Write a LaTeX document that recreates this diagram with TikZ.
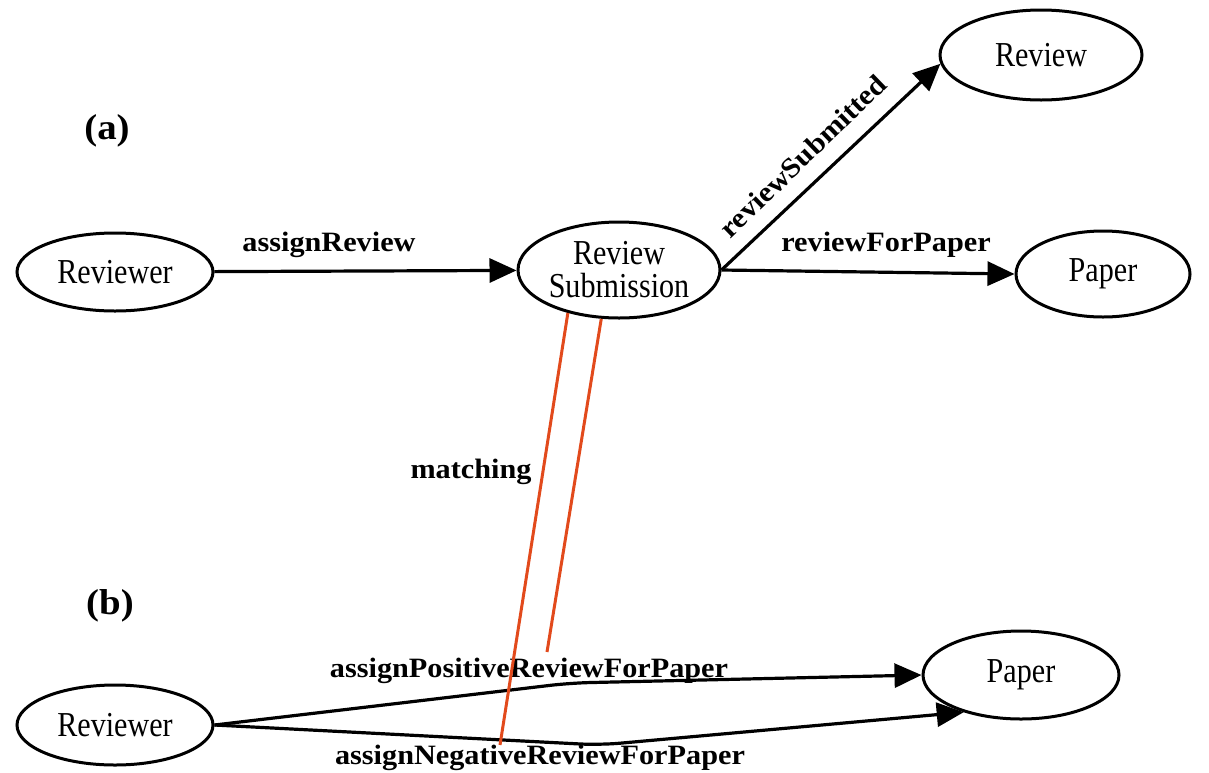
\documentclass[tikz,border=0pt]{standalone}
\usepackage{fontspec}
\setmainfont{Liberation Serif}
\newfontfamily\nodefont[FakeStretch=0.86]{Liberation Serif}
\newfontfamily\edgefont[FakeStretch=1.08]{Liberation Serif}
\usetikzlibrary{shapes.geometric,arrows.meta}
\definecolor{matchred}{RGB}{226,74,28}
\begin{document}
\begin{tikzpicture}[x=1pt,y=-1pt,
  entity/.style={ellipse,draw,line width=3pt,inner sep=0pt,align=center,
    font=\fontsize{35}{33}\selectfont\nodefont},
  rel/.style={line width=3.2pt,-{Triangle[length=27pt,width=24pt]}},
  lbl/.style={inner sep=0pt,font=\fontsize{28}{30}\selectfont\edgefont\bfseries},
  panel/.style={inner sep=0pt,font=\fontsize{36}{38}\selectfont\edgefont\bfseries},
  match/.style={draw=matchred,line width=3pt}]
\useasboundingbox (0,0) rectangle (1209,772);

% panel (a)
\node[panel] (pa) at (107,131) {(a)};
\node[entity,minimum width=196pt,minimum height=78pt] (r1) at (115,272) {Reviewer};
\node[entity,minimum width=202pt,minimum height=96pt] (rs) at (619,270) {Review\\Submission};
\node[entity,minimum width=202pt,minimum height=90pt] (rv) at (1041,55) {Review};
\node[entity,minimum width=174pt,minimum height=86pt] (p1) at (1103,274) {Paper};

\draw[rel] (r1) -- (rs);
\node[lbl] (l1) at (329,245) {assignReview};
\draw[rel] (rs.east) -- (rv.185);
\node[lbl,rotate=44] (l2) at (803,156) {reviewSubmitted};
\draw[rel] (rs.east) -- (p1.west);
\node[lbl] (l3) at (886,245) {reviewForPaper};

% panel (b)
\node[panel] (pb) at (110,606) {(b)};
\node[entity,minimum width=196pt,minimum height=80pt] (r2) at (115,725) {Reviewer};
\node[entity,minimum width=196pt,minimum height=88pt] (p2) at (1021,675) {Paper};

\coordinate (bu) at (570,683);
\coordinate (bl) at (600,745);
\draw[rel,rounded corners=20pt] (r2.east) -- (bu) -- (p2.west);
\draw[rel,rounded corners=20pt] (r2.east) -- (bl) -- (p2.213);
\node[lbl] (l4) at (529,671) {assignPositiveReviewForPaper};
\node[lbl] (l5) at (540,758) {assignNegativeReviewForPaper};

% matching between the two panels
\coordinate (m1) at (500,745);
\coordinate (m2) at (547,652);
\draw[match] (rs.220) -- (m1);
\draw[match] (rs.250) -- (m2);
\node[lbl] (l6) at (471,472) {matching};
\end{tikzpicture}
\end{document}
